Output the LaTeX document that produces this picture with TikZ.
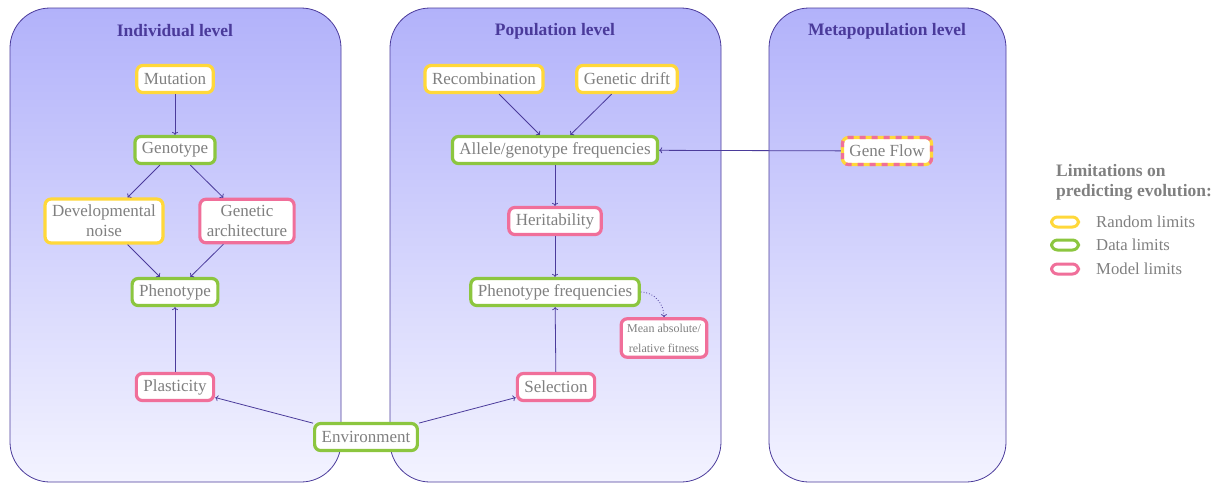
\documentclass[tikz,border=0pt]{standalone}
\usepackage{fontspec}
\setmainfont{Liberation Serif}
\usetikzlibrary{arrows.meta}
\definecolor{ylw}{RGB}{255,216,58}
\definecolor{grn}{RGB}{140,198,63}
\definecolor{pnk}{RGB}{240,111,154}
\definecolor{txtgray}{RGB}{128,128,128}
\definecolor{arrcol}{RGB}{75,59,155}
\definecolor{ttl}{RGB}{74,58,154}
\definecolor{pantop}{RGB}{178,178,250}
\definecolor{panbot}{RGB}{243,243,255}
\tikzset{
  box/.style={draw, line width=3.2pt, rounded corners=6pt, fill=white, text=txtgray,
    inner xsep=7pt, inner ysep=2pt, minimum height=27pt, align=center,
    font=\fontsize{17}{20}\selectfont},
  rnd/.style={box, draw=ylw},
  dat/.style={box, draw=grn},
  mdl/.style={box, draw=pnk},
  two/.style={inner ysep=6pt},
  arr/.style={draw=arrcol, line width=0.8pt, -{To[length=3pt,width=6pt]}},
  panel/.style={draw=arrcol, line width=0.8pt, rounded corners=40pt, top color=pantop, bottom color=panbot},
  ttlstyle/.style={text=ttl, font=\fontsize{17.5}{20}\selectfont\bfseries},
  pill/.style={draw, line width=3pt, rounded corners=6pt, fill=white, minimum width=27pt, minimum height=10pt, inner sep=0pt},
  legtext/.style={text=txtgray, anchor=west, font=\fontsize{16.7}{20}\selectfont, inner sep=0pt},
}
\begin{document}
\begin{tikzpicture}[x=1pt,y=1pt]
\useasboundingbox (0,0) rectangle (1222,-483);
% panels
\shadedraw[panel] (10,-8) rectangle (341,-482);
\shadedraw[panel] (390,-8) rectangle (721,-482);
\shadedraw[panel] (769,-8) rectangle (1006,-482);
% titles
\node[ttlstyle] (t1) at (175,-31) {Individual level};
\node[ttlstyle] (t2) at (555,-31) {Population level};
\node[ttlstyle] (t3) at (887,-31) {Metapopulation level};
% individual
\node[rnd] (mut) at (175,-79) {Mutation};
\node[dat] (gen) at (175,-150) {Genotype};
\node[rnd, two] (dev) at (104,-221) {Developmental\\noise};
\node[mdl, two] (arch) at (247,-221) {Genetic\\architecture};
\node[dat] (phe) at (175,-292) {Phenotype};
\node[mdl] (pla) at (175,-387) {Plasticity};
% population
\node[rnd] (rec) at (484,-79) {Recombination};
\node[rnd] (drift) at (627,-79) {Genetic drift};
\node[dat] (all) at (555,-150) {Allele/genotype frequencies};
\node[mdl] (her) at (555,-221) {Heritability};
\node[dat] (pf) at (555,-292) {Phenotype frequencies};
\node[mdl, font=\fontsize{12}{20}\selectfont, inner ysep=5pt, inner xsep=6pt] (mf) at (664,-338) {Mean absolute/\\relative fitness};
\node[mdl] (sel) at (556,-387) {Selection};
\node[dat] (env) at (366,-437) {Environment};
% metapopulation
\node[rnd, postaction={draw=pnk, line width=3.2pt, dash pattern=on 6pt off 6pt}] (gf) at (887,-151) {Gene Flow};
% arrows
\draw[arr] (mut) -- (gen);
\draw[arr] (gen) -- (dev);
\draw[arr] (gen) -- (arch);
\draw[arr] (dev) -- (phe);
\draw[arr] (arch) -- (phe);
\draw[arr] (pla) -- (phe);
\draw[arr] (env) -- (pla);
\draw[arr] (env) -- (sel);
\draw[arr] (rec) -- (all);
\draw[arr] (drift) -- (all);
\draw[arr] (all) -- (her);
\draw[arr] (her) -- (pf);
\draw[arr] (sel) -- (pf);
\draw[arr] (gf) -- (all);
\draw[arr, dotted] (pf.east) to[out=0, in=90] (mf.north);
% legend
\node[text=txtgray, anchor=west, align=left, font=\fontsize{17.5}{20}\selectfont\bfseries, inner sep=0pt] (lt) at (1056,-182) {Limitations on\\predicting evolution:};
\node[pill, draw=ylw] (p1) at (1065,-222) {};
\node[pill, draw=grn] (p2) at (1065,-245) {};
\node[pill, draw=pnk] (p3) at (1065,-269) {};
\node[legtext] (l1) at (1096,-222) {Random limits};
\node[legtext] (l2) at (1096,-245) {Data limits};
\node[legtext] (l3) at (1096,-269) {Model limits};
\end{tikzpicture}
\end{document}
